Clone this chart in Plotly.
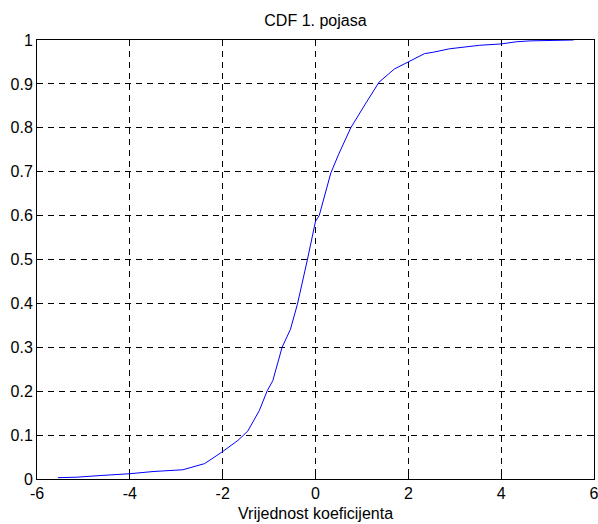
import plotly.graph_objects as go

x_vals = [-5.55, -5.16, -4.62, -4.37, -4.0, -3.5, -2.86, -2.39, -2.02, -1.67, -1.46,
          -1.21, -1.04, -0.92, -0.72, -0.54, -0.39, -0.18, 0.0, 0.08, 0.33, 0.5, 0.76,
          1.09, 1.3, 1.37, 1.70, 2.0, 2.35, 2.53, 2.89, 3.54, 4.0, 4.33, 4.62, 5.56]
cdf_vals = [0.003, 0.004, 0.008, 0.009, 0.012, 0.017, 0.021, 0.035, 0.061, 0.088, 0.109,
            0.156, 0.201, 0.224, 0.30, 0.341, 0.398, 0.497, 0.587, 0.60, 0.697, 0.74, 0.80,
            0.857, 0.89, 0.904, 0.934, 0.95, 0.969, 0.972, 0.98, 0.988, 0.991, 0.996, 0.998, 1.0]

x_ticks = [-6, -4, -2, 0, 2, 4, 6]
y_ticks = [0, 0.1, 0.2, 0.3, 0.4, 0.5, 0.6, 0.7, 0.8, 0.9, 1]
y_labels = ["0", "0.1", "0.2", "0.3", "0.4", "0.5", "0.6", "0.7", "0.8", "0.9", "1"]

FONT = "Liberation Sans, Arial"

fig = go.Figure()
fig.add_trace(go.Scatter(x=x_vals, y=cdf_vals, mode="lines",
                         line=dict(color="#0000ff", width=1)))

axis_common = dict(showline=True, linecolor="black", linewidth=1, mirror="ticks",
                   ticks="inside", ticklen=5, tickcolor="black", automargin=False,
                   ticklabeloverflow="allow",
                   showgrid=True, gridcolor="black", gridwidth=1, griddash="6px,5px",
                   zeroline=False, tickfont=dict(family=FONT, size=16, color="black"))

fig.update_layout(
    width=598, height=524,
    margin=dict(l=37, r=4, t=40, b=45),
    paper_bgcolor="white", plot_bgcolor="white",
    showlegend=False,
    title=dict(text="CDF 1. pojasa", x=0.5275, xanchor="center", y=0.961, yanchor="middle",
               font=dict(family=FONT, size=16, color="black")),
    xaxis=dict(range=[-6, 6], tickvals=x_ticks, ticktext=[str(v) for v in x_ticks],
               **axis_common),
    yaxis=dict(range=[0, 1], tickvals=y_ticks, ticktext=y_labels, **axis_common),
    annotations=[dict(text="Vrijednost koeficijenta", xref="paper", yref="paper",
                      x=0.5, y=-0.0775, xanchor="center", yanchor="middle",
                      showarrow=False, font=dict(family=FONT, size=16, color="black"))],
)

fig.write_html("out.html", config={"displayModeBar": False},
               post_script="document.body.style.margin='0';")
